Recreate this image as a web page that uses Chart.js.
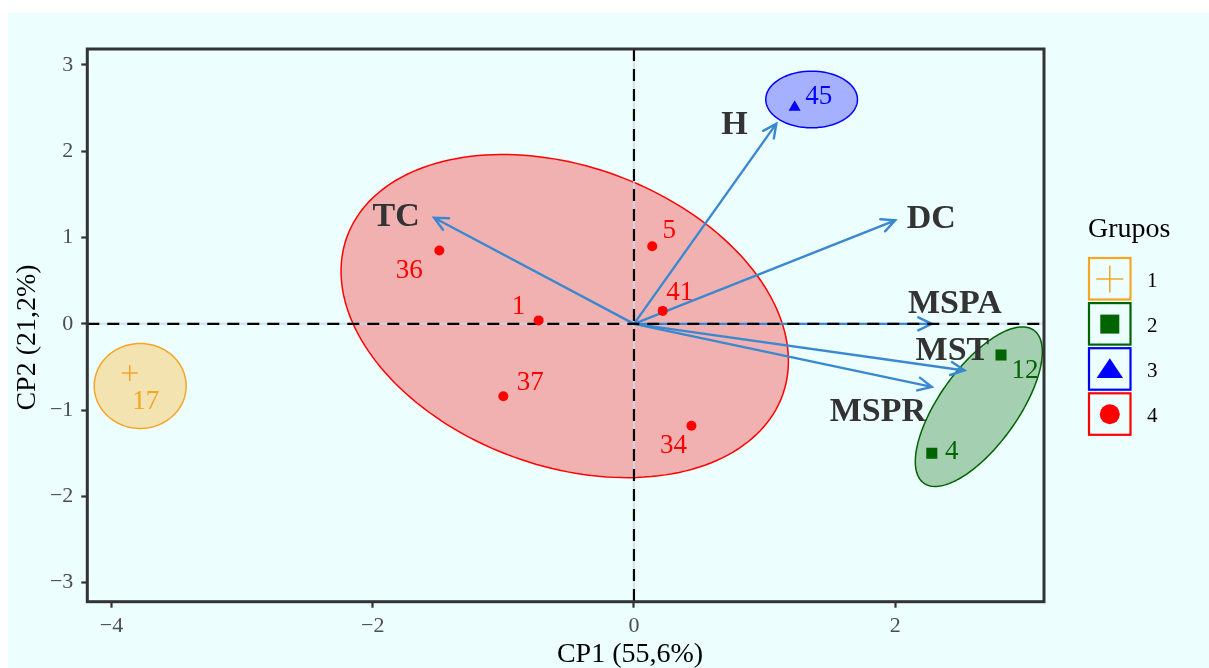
<!DOCTYPE html>
<html>
<head>
<meta charset="utf-8">
<title>Biplot CP1 x CP2</title>
<script src="https://cdn.jsdelivr.net/npm/chart.js"></script>
<style>
  html, body { margin: 0; padding: 0; background: #ffffff; }
  #wrap { position: relative; width: 1209px; height: 668px; }
</style>
</head>
<body>
<div id="wrap"><canvas id="biplot" width="1209" height="668" style="width:1209px;height:668px"></canvas></div>
<script>
// individuals (scores)
const obsIds = ['17', '36', '1', '37', '5', '41', '34', '45', '12', '4'];
const obsGroup = [1, 4, 4, 4, 4, 4, 4, 3, 2, 2];
const obsCP1 = [-3.86, -1.49, -0.73, -1.00, 0.14, 0.22, 0.44, 1.23, 2.81, 2.28];
const obsCP2 = [-0.57, 0.85, 0.04, -0.84, 0.90, 0.15, -1.18, 2.51, -0.36, -1.50];

// variables (loadings arrows)
const varNames = ['TC', 'H', 'DC', 'MSPA', 'MST', 'MSPR'];
const varCP1 = [-1.53, 1.09, 2.00, 2.28, 2.53, 2.28];
const varCP2 = [1.23, 2.32, 1.20, 0.00, -0.54, -0.73];

// groups and their concentration ellipses (centre + two semi-axis vectors)
const groupNames = ['1', '2', '3', '4'];
const ellCP1 = [-3.78, 2.64, 1.36, -0.53];
const ellCP2 = [-0.72, -0.96, 2.60, 0.09];
const ellAxisA = [[0.352, 0], [0.421, 0.886], [0.351, 0], [1.667, -0.918]];
const ellAxisB = [[0, 0.492], [0.243, -0.264], [0, 0.328], [-0.392, -1.632]];

const xTicks = [-4, -2, 0, 2];
const yTicks = [-3, -2, -1, 0, 1, 2, 3];

// styling
const groupColors = ['#f5a524', '#006400', '#0000ff', '#ff0000'];
const groupFills = ['rgba(255,165,0,0.3)', 'rgba(0,100,0,0.3)', 'rgba(0,0,255,0.3)', 'rgba(255,0,0,0.3)'];
const groupMarkers = ['cross', 'rect', 'triangle', 'circle'];
const groupMarkerRadius = [8, 7.8, 7, 5];
const obsLabelOffset = [[16, 27], [-30, 18], [-20, -15], [27, -15], [17, -17], [17, -20], [-18, 18], [24, -12], [24, 14], [20, -3]];
const varLabelOffset = [[-38, -2], [-42, 0], [36, -3], [23, -22], [-12, -21], [-54, 23]];
const arrowColor = '#3a88d0';
const SERIF = '"Liberation Serif", "Times New Roman", serif';

function minusFmt(v) { return v < 0 ? '\u2212' + Math.abs(v) : String(v); }

function drawMarker(ctx, kind, cx, cy, color, s) {
  ctx.fillStyle = color; ctx.strokeStyle = color;
  ctx.beginPath();
  if (kind === 'cross') {
    ctx.lineWidth = 1.5;
    ctx.moveTo(cx - s, cy); ctx.lineTo(cx + s, cy);
    ctx.moveTo(cx, cy - s); ctx.lineTo(cx, cy + s);
    ctx.stroke();
  } else if (kind === 'rect') {
    ctx.fillRect(cx - s, cy - s, 2 * s, 2 * s);
  } else if (kind === 'triangle') {
    ctx.moveTo(cx, cy - s); ctx.lineTo(cx + s * 1.2, cy + s * 0.8); ctx.lineTo(cx - s * 1.2, cy + s * 0.8);
    ctx.closePath(); ctx.fill();
  } else {
    ctx.arc(cx, cy, s, 0, Math.PI * 2); ctx.fill();
  }
}

const biplotDecor = {
  id: 'biplotDecor',
  beforeDraw(chart) {
    const ctx = chart.ctx;
    ctx.save();
    ctx.fillStyle = '#ffffff';
    ctx.fillRect(0, 0, chart.width, chart.height);
    ctx.fillStyle = '#ecfefe';
    ctx.fillRect(8, 13, chart.width - 8, chart.height - 13);
    ctx.restore();
  },
  beforeDatasetsDraw(chart) {
    const { ctx, chartArea: a, scales: { x, y } } = chart;
    ctx.save();
    ctx.beginPath(); ctx.rect(a.left, a.top, a.width, a.height); ctx.clip();

    // ellipses
    groupNames.forEach((g, i) => {
      ctx.beginPath();
      for (let k = 0; k <= 180; k++) {
        const t = k / 180 * Math.PI * 2;
        const px = x.getPixelForValue(ellCP1[i] + ellAxisA[i][0] * Math.cos(t) + ellAxisB[i][0] * Math.sin(t));
        const py = y.getPixelForValue(ellCP2[i] + ellAxisA[i][1] * Math.cos(t) + ellAxisB[i][1] * Math.sin(t));
        if (k === 0) ctx.moveTo(px, py); else ctx.lineTo(px, py);
      }
      ctx.closePath();
      ctx.fillStyle = groupFills[i];
      ctx.fill();
      ctx.strokeStyle = groupColors[i];
      ctx.lineWidth = 1.5;
      ctx.stroke();
    });

    // faint zero grid lines
    const x0 = x.getPixelForValue(0), y0 = y.getPixelForValue(0);
    ctx.strokeStyle = 'rgba(200,215,245,0.8)';
    ctx.lineWidth = 2;
    ctx.beginPath();
    ctx.moveTo(a.left, y0); ctx.lineTo(a.right, y0);
    ctx.moveTo(x0, a.top); ctx.lineTo(x0, a.bottom);
    ctx.stroke();

    // variable arrows
    ctx.strokeStyle = arrowColor;
    ctx.lineWidth = 2.4;
    ctx.lineCap = 'round';
    varNames.forEach((v, i) => {
      const tx = x.getPixelForValue(varCP1[i]), ty = y.getPixelForValue(varCP2[i]);
      const ang = Math.atan2(ty - y0, tx - x0);
      ctx.beginPath();
      ctx.moveTo(x0, y0); ctx.lineTo(tx, ty);
      ctx.moveTo(tx - 15 * Math.cos(ang - 0.45), ty - 15 * Math.sin(ang - 0.45));
      ctx.lineTo(tx, ty);
      ctx.lineTo(tx - 15 * Math.cos(ang + 0.45), ty - 15 * Math.sin(ang + 0.45));
      ctx.stroke();
    });

    // dashed zero lines
    ctx.strokeStyle = '#000000';
    ctx.lineWidth = 2.2;
    ctx.lineCap = 'butt';
    ctx.setLineDash([12, 8]);
    ctx.beginPath();
    ctx.moveTo(a.left, y0); ctx.lineTo(a.right, y0);
    ctx.moveTo(x0, a.top); ctx.lineTo(x0, a.bottom);
    ctx.stroke();
    ctx.restore();
  },
  afterDatasetsDraw(chart) {
    const { ctx, chartArea: a, scales: { x, y } } = chart;
    ctx.save();
    ctx.textAlign = 'center';
    ctx.textBaseline = 'middle';

    // observation labels
    ctx.font = '27px ' + SERIF;
    obsIds.forEach((id, k) => {
      ctx.fillStyle = groupColors[obsGroup[k] - 1];
      ctx.fillText(id, x.getPixelForValue(obsCP1[k]) + obsLabelOffset[k][0], y.getPixelForValue(obsCP2[k]) + obsLabelOffset[k][1] + 2);
    });

    // variable labels
    ctx.font = 'bold 34px ' + SERIF;
    ctx.fillStyle = '#333333';
    varNames.forEach((v, i) => {
      ctx.fillText(v, x.getPixelForValue(varCP1[i]) + varLabelOffset[i][0], y.getPixelForValue(varCP2[i]) + varLabelOffset[i][1] + 2);
    });

    // panel frame
    ctx.strokeStyle = '#333333';
    ctx.lineWidth = 3;
    ctx.strokeRect(a.left, a.top, a.right - a.left, a.bottom - a.top);
    ctx.restore();
  },
  afterDraw(chart) {
    const ctx = chart.ctx;
    ctx.save();
    // axis titles
    ctx.fillStyle = '#000000';
    ctx.font = '28px ' + SERIF;
    ctx.textAlign = 'center';
    ctx.textBaseline = 'alphabetic';
    ctx.fillText('CP1 (55,6%)', 630, 662);
    ctx.save();
    ctx.translate(35, 337.5);
    ctx.rotate(-Math.PI / 2);
    ctx.fillText('CP2 (21,2%)', 0, 0);
    ctx.restore();

    // legend
    ctx.textAlign = 'left';
    ctx.font = '28px ' + SERIF;
    ctx.fillText('Grupos', 1088, 237);
    ctx.font = '21px ' + SERIF;
    groupNames.forEach((g, i) => {
      const top = 258 + i * 45.1;
      ctx.strokeStyle = groupColors[i];
      ctx.lineWidth = 2.2;
      ctx.strokeRect(1089, top, 41.5, 41.5);
      const sizes = [13.5, 9.5, 11, 10];
      drawMarker(ctx, groupMarkers[i], 1109.8, top + 21, groupColors[i], sizes[i]);
      ctx.fillStyle = '#000000';
      ctx.fillText(g, 1147, top + 29);
    });
    ctx.restore();
  }
};

const tickFont = { family: SERIF, size: 22 };

new Chart(document.getElementById('biplot'), {
  type: 'scatter',
  data: {
    datasets: groupNames.map((g, gi) => ({
      label: g,
      data: obsIds
        .map((id, k) => ({ x: obsCP1[k], y: obsCP2[k], grp: obsGroup[k] }))
        .filter(p => p.grp === gi + 1),
      pointStyle: groupMarkers[gi],
      pointRadius: groupMarkerRadius[gi],
      backgroundColor: groupColors[gi],
      borderColor: groupColors[gi],
      borderWidth: gi === 0 ? 1.5 : 0
    }))
  },
  options: {
    responsive: false,
    animation: false,
    events: [],
    layout: { padding: { left: 0, top: 49, right: 165, bottom: 0 } },
    plugins: { legend: { display: false }, tooltip: { enabled: false } },
    scales: {
      x: {
        type: 'linear',
        min: -4.185,
        max: 3.139,
        afterBuildTicks: s => { s.ticks = xTicks.map(v => ({ value: v })); },
        afterFit: s => { s.height = 66.3; },
        border: { display: false },
        grid: { drawOnChartArea: false, drawTicks: true, tickLength: 6, tickColor: '#333333', tickWidth: 2.2 },
        ticks: { font: tickFont, color: '#4d4d4d', padding: 5, callback: v => minusFmt(v) }
      },
      y: {
        type: 'linear',
        min: -3.22,
        max: 3.185,
        afterBuildTicks: s => { s.ticks = yTicks.map(v => ({ value: v })); },
        afterFit: s => { s.width = 87.3; },
        border: { display: false },
        grid: { drawOnChartArea: false, drawTicks: true, tickLength: 6, tickColor: '#333333', tickWidth: 2.2 },
        ticks: { font: tickFont, color: '#4d4d4d', padding: 8, callback: v => minusFmt(v) }
      }
    }
  },
  plugins: [biplotDecor]
});
</script>
</body>
</html>
